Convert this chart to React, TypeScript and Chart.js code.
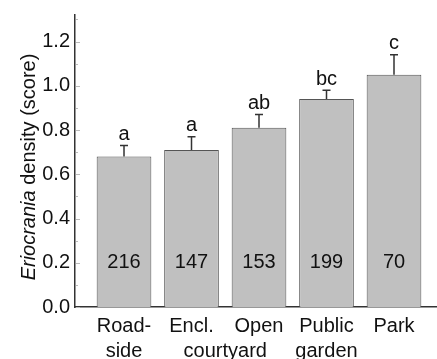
import React, { useEffect, useRef } from "react";
import { Chart, registerables } from "chart.js";

Chart.register(...registerables);

// Site categories (x positions 1..5), with a shared second line under positions 2 and 3
const categoryLine1 = ["Road-", "Encl.", "Open", "Public", "Park"];
const categoryLine2 = ["side", "", "", "garden", ""];
const sharedLabel = "courtyard";
const sharedLabelPos = 2.5;

// Mean density score and standard error per site type
const meanScore = [0.68, 0.71, 0.81, 0.94, 1.05];
const stdError = [0.05, 0.06, 0.06, 0.04, 0.09];
// Significance groups and sample sizes
const groupLetters = ["a", "a", "ab", "bc", "c"];
const sampleSizes = [216, 147, 153, 199, 70];
const sampleLabelLevel = 0.2;

// Y axis ticks: every 0.1, labelled every 0.2
const yTickValues = [0, 0.1, 0.2, 0.3, 0.4, 0.5, 0.6, 0.7, 0.8, 0.9, 1.0, 1.1, 1.2, 1.3];
const yMax = 1.32;

const FONT = "'Liberation Sans', Arial, Helvetica, sans-serif";
const TEXT = "#111";
const AXIS = "#333";
const LABEL_PAD = 7;
const LINE_H = 25;

const positions = categoryLine1.map((_, i) => i + 1);

const annotate = {
  id: "annotate",
  afterDatasetsDraw(chart: any) {
    const { ctx, scales } = chart;
    const xs = scales.x;
    const ys = scales.y;
    ctx.save();
    // error bars, significance letters and sample sizes
    positions.forEach((p, i) => {
      const x = xs.getPixelForValue(p);
      const yTop = ys.getPixelForValue(meanScore[i]);
      const yErr = ys.getPixelForValue(meanScore[i] + stdError[i]);
      ctx.strokeStyle = "#333";
      ctx.lineWidth = 1.5;
      ctx.beginPath();
      ctx.moveTo(x, yTop);
      ctx.lineTo(x, yErr);
      ctx.moveTo(x - 4, yErr);
      ctx.lineTo(x + 4, yErr);
      ctx.stroke();

      ctx.fillStyle = TEXT;
      ctx.font = `20px ${FONT}`;
      ctx.textAlign = "center";
      ctx.textBaseline = "alphabetic";
      ctx.fillText(groupLetters[i], x, yErr - 5.5);

      ctx.textBaseline = "middle";
      ctx.fillText(String(sampleSizes[i]), x, ys.getPixelForValue(sampleLabelLevel));
    });

    // second label line shared by the two courtyard categories
    ctx.textBaseline = "middle";
    ctx.fillText(sharedLabel, xs.getPixelForValue(sharedLabelPos), xs.top + LABEL_PAD + LINE_H * 1.5);
    ctx.restore();
  },
  afterDraw(chart: any) {
    const { ctx, scales, chartArea } = chart;
    const ys = scales.y;
    ctx.save();
    // inward tick marks on the y axis
    ctx.strokeStyle = "#bbb";
    ctx.lineWidth = 1;
    yTickValues.forEach((v) => {
      const y = Math.round(ys.getPixelForValue(v)) + 0.5;
      const major = Math.round(v * 10) % 2 === 0;
      ctx.beginPath();
      ctx.moveTo(chartArea.left + 1, y);
      ctx.lineTo(chartArea.left + (major ? 5 : 3), y);
      ctx.stroke();
    });

    // rotated y-axis title with italic genus name
    const italic = "Eriocrania";
    const rest = " density (score)";
    ctx.fillStyle = TEXT;
    ctx.translate(35, (chartArea.top + chartArea.bottom) / 2 + 6);
    ctx.rotate(-Math.PI / 2);
    ctx.font = `italic 20px ${FONT}`;
    const w1 = ctx.measureText(italic).width;
    ctx.font = `20px ${FONT}`;
    const w2 = ctx.measureText(rest).width;
    const start = -(w1 + w2) / 2;
    ctx.textAlign = "left";
    ctx.textBaseline = "alphabetic";
    ctx.font = `italic 20px ${FONT}`;
    ctx.fillText(italic, start, 0);
    ctx.font = `20px ${FONT}`;
    ctx.fillText(rest, start + w1, 0);
    ctx.restore();
  },
};

export default function App() {
  const canvasRef = useRef<HTMLCanvasElement | null>(null);

  useEffect(() => {
    if (!canvasRef.current) return;
    const chart = new Chart(canvasRef.current, {
      type: "bar",
      data: {
        datasets: [
          {
            data: positions.map((p, i) => ({ x: p, y: meanScore[i] })),
            backgroundColor: "#c0c0c0",
            borderColor: "#555",
            borderWidth: 1,
            categoryPercentage: 1,
            barPercentage: 0.81,
          },
        ],
      },
      options: {
        responsive: false,
        animation: false,
        devicePixelRatio: 1,
        layout: { padding: 0 },
        plugins: {
          legend: { display: false },
          tooltip: { enabled: false },
        },
        scales: {
          x: {
            type: "linear",
            offset: false,
            bounds: "data",
            min: 0.274,
            max: 5.637,
            grid: { display: false, drawTicks: false, offset: false },
            border: { display: true, color: AXIS, width: 1.5 },
            afterBuildTicks: (scale: any) => {
              scale.ticks = positions.map((v) => ({ value: v }));
            },
            afterFit: (scale: any) => {
              scale.height = 52;
            },
            ticks: {
              autoSkip: false,
              maxRotation: 0,
              minRotation: 0,
              padding: LABEL_PAD,
              color: TEXT,
              font: { family: FONT, size: 20, lineHeight: LINE_H / 20 },
              callback: (value: any) => {
                const i = Math.round(value) - 1;
                return [categoryLine1[i], categoryLine2[i]];
              },
            },
          },
          y: {
            min: 0,
            max: yMax,
            grid: { display: false, drawTicks: false },
            border: { display: true, color: AXIS, width: 1.5 },
            afterBuildTicks: (scale: any) => {
              scale.ticks = yTickValues.map((v) => ({ value: v }));
            },
            afterFit: (scale: any) => {
              scale.width = 75;
            },
            ticks: {
              autoSkip: false,
              padding: 5,
              color: TEXT,
              font: { family: FONT, size: 20, lineHeight: 1 },
              callback: (value: any) =>
                Math.round(value * 10) % 2 === 0 ? Number(value).toFixed(1) : null,
            },
          },
        },
      },
      plugins: [annotate],
    } as any);
    return () => chart.destroy();
  }, []);

  return (
    <div style={{ position: "absolute", left: 0, top: 0, width: 437, height: 359, background: "#fff" }}>
      <canvas ref={canvasRef} width={437} height={359} />
    </div>
  );
}
